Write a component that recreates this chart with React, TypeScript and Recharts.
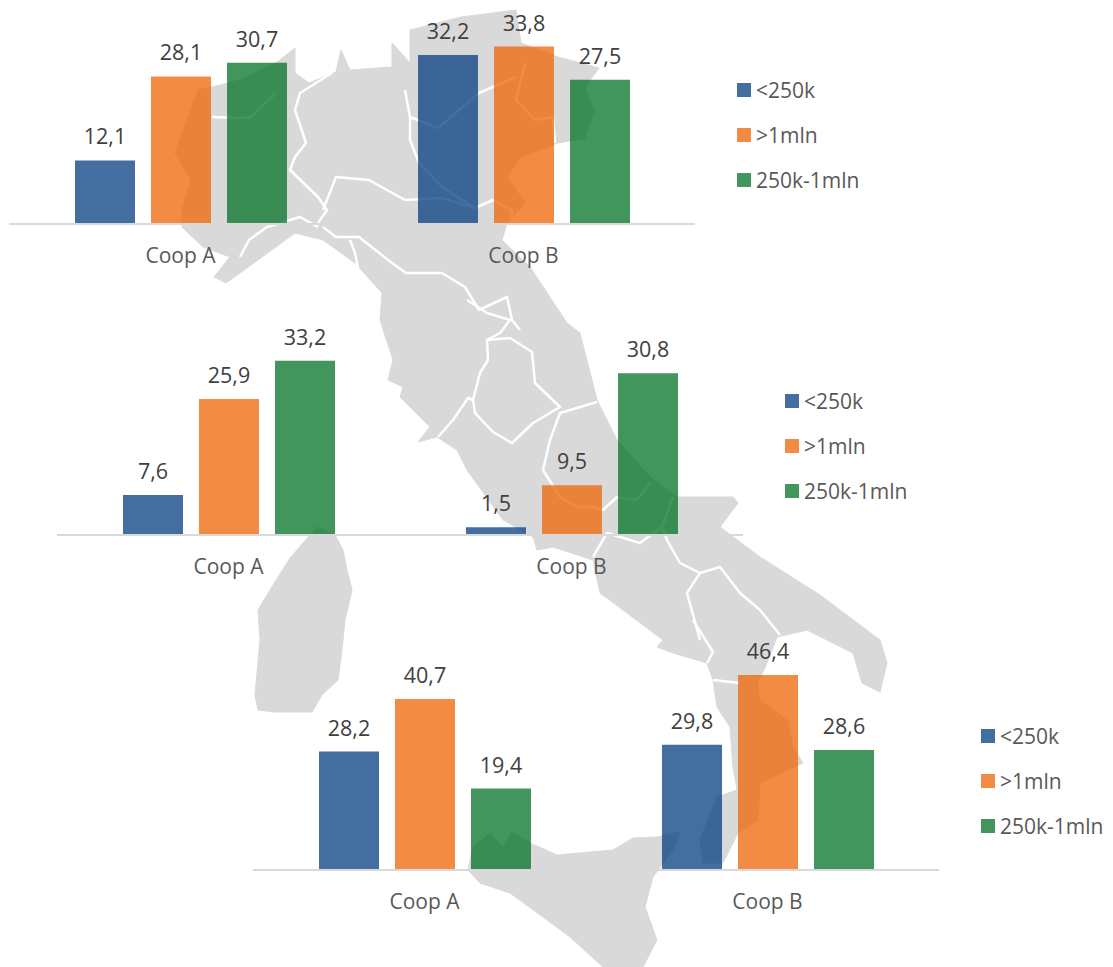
import { BarChart, Bar, XAxis, YAxis, Legend, LabelList } from 'recharts';

const categories = ['Coop A', 'Coop B'];
const seriesNames = ['<250k', '>1mln', '250k-1mln'];
const seriesColors = ['#053D7F', '#ED6405', '#047128'];

// north, centre, south panels
const northSmall = [12.1, 32.2];
const northLarge = [28.1, 33.8];
const northMid = [30.7, 27.5];
const centreSmall = [7.6, 1.5];
const centreLarge = [25.9, 9.5];
const centreMid = [33.2, 30.8];
const southSmall = [28.2, 29.8];
const southLarge = [40.7, 46.4];
const southMid = [19.4, 28.6];

// background map of Italy, traced by hand
const mainland =
  'M198,90 L212,87 L240,80 L276,63 L295,48 L295,73 L309,83 L336,72 L341,50 L350,70 L392,67 L392,43 L410,63 L410,30 L461,17 L516,10 L521,43 L558,57 L599,68 L585,87 L594,110 L585,138 L558,143 L521,157 L507,177 L525,203 L507,223 L502,240 L530,267 L567,323 L580,333 L597,400 L617,440 L650,477 L677,497 L733,497 L738,503 L720,527 L760,557 L820,595 L880,640 L887,663 L880,692 L862,683 L853,653 L807,630 L777,637 L765,668 L757,683 L760,700 L787,720 L793,747 L803,763 L760,783 L758,820 L738,833 L723,863 L703,863 L700,840 L717,797 L737,790 L733,767 L730,727 L717,707 L713,680 L707,663 L673,653 L657,647 L663,640 L623,610 L600,593 L593,560 L553,547 L537,550 L533,537 L503,520 L467,470 L457,450 L437,437 L418,442 L430,427 L400,397 L403,387 L388,380 L393,360 L380,320 L382,293 L355,263 L323,240 L295,233 L258,260 L226,283 L214,277 L230,257 L203,247 L182,227 L182,210 L191,180 L175,153 Z';
const sardinia =
  'M317,527 L335,535 L343,550 L347,570 L352,590 L345,620 L342,650 L338,680 L322,695 L312,712 L275,712 L258,710 L255,695 L260,640 L258,610 L270,590 L290,558 Z';
const sicily =
  'M680,832 L673,850 L653,877 L645,907 L657,940 L643,967 L603,967 L570,937 L543,917 L510,893 L480,883 L468,870 L473,847 L490,833 L503,847 L512,832 L530,843 L557,855 L613,850 L633,838 L657,837 Z';
const borders = [
  'M487,340 L510,338 L532,352 L535,383 L560,407 L533,423 L512,443 L493,432 L475,413 L473,400 L480,373 L488,360 Z',
  'M473,400 L468,398 L453,420 L438,437',
  'M597,402 L560,413 L550,440 L543,470 L560,497 L577,507 L593,507 L603,510 L617,497 L637,500 L650,483',
  'M673,497 L662,527 L640,543 L607,533 L593,557',
  'M662,527 L667,540 L680,563 L700,573 L687,593 L700,640',
  'M700,573 L720,567 L740,593 L760,610 L780,635',
  'M693,620 L713,652 L707,663 M713,680 L740,683',
  'M332,73 L300,93 L295,110 L306,143 L295,157 L290,170 L318,197 L327,210 L318,223',
  'M318,227 L300,217 L267,227 L249,240 L240,257',
  'M212,117 L240,118 L251,117 L276,93',
  'M323,210 L336,177 L369,180 L405,200 L442,198 L475,208 L493,200 L512,210 L512,223',
  'M323,227 L336,237 L359,237 L392,263 L406,273 L442,273 L465,287 L479,310 L507,297 L512,320 L520,330',
  'M467,300 L487,313 L510,320 L500,333 L487,340',
  'M350,240 L355,253 L359,273',
  'M479,93 L438,128 L410,117 L405,90 M410,117 L410,140 L419,163 L442,187 L475,208',
  'M525,63 L516,100 L535,120 L553,117 L555,143 M479,93 L516,77',
];

const makeRows = (small: number[], large: number[], mid: number[]) =>
  categories.map((name, i) => ({ name, small: small[i], large: large[i], mid: mid[i] }));

const formatValue = (v: any) => Number(v).toFixed(1).replace('.', ',');

const ChartLegend = ({ payload }: any) => (
  <div style={{ fontFamily: 'Open Sans', fontSize: 21, color: '#595959' }}>
    {(payload || []).map((item: any) => (
      <div key={item.value} style={{ display: 'flex', alignItems: 'center', height: 45, whiteSpace: 'nowrap' }}>
        <span style={{ width: 14, height: 14, marginRight: 5, background: item.color, opacity: 0.75 }} />
        {item.value}
      </div>
    ))}
  </div>
);

const Panel = ({ rows, max, left, top }: any) => (
  <div style={{ position: 'absolute', left, top: top - 40 }}>
    <BarChart
      width={1000}
      height={320}
      data={rows}
      barSize={60}
      barGap={16}
      margin={{ top: 40, right: 114, bottom: 0, left: 0 }}
    >
      <XAxis
        dataKey="name"
        axisLine={{ stroke: '#D9D9D9', strokeWidth: 2 }}
        tickLine={false}
        height={70}
        tickMargin={18}
        tick={{ fontFamily: 'Open Sans', fontSize: 21, fill: '#595959' }}
      />
      <YAxis hide domain={[0, max]} />
      <Legend
        layout="vertical"
        align="right"
        verticalAlign="top"
        itemSorter={null}
        content={<ChartLegend />}
        wrapperStyle={{ position: 'absolute', left: 728, top: 93, width: 200 }}
      />
      {['small', 'large', 'mid'].map((key, i) => (
        <Bar
          key={key}
          dataKey={key}
          name={seriesNames[i]}
          fill={seriesColors[i]}
          fillOpacity={0.75}
          isAnimationActive={false}
        >
          <LabelList
            dataKey={key}
            position="top"
            offset={16}
            formatter={formatValue}
            style={{ fontFamily: 'Open Sans', fontSize: 21.5, fill: '#404040' }}
          />
        </Bar>
      ))}
    </BarChart>
  </div>
);

const App = () => (
  <div style={{ position: 'absolute', left: 0, top: 0, width: 1113, height: 967, overflow: 'hidden', background: '#fff' }}>
    <svg width={1113} height={967} style={{ position: 'absolute', left: 0, top: 0 }}>
      <path d={mainland} fill="#D9D9D9" stroke="#D9D9D9" strokeLinejoin="round" />
      <path d={sardinia} fill="#D9D9D9" stroke="#D9D9D9" strokeLinejoin="round" />
      <path d={sicily} fill="#D9D9D9" stroke="#D9D9D9" strokeLinejoin="round" />
      {borders.map((d) => (
        <path key={d} d={d} fill="none" stroke="#fff" strokeWidth={2.5} strokeLinejoin="round" />
      ))}
    </svg>
    <Panel rows={makeRows(northSmall, northLarge, northMid)} max={40} left={9} top={14} />
    <Panel rows={makeRows(centreSmall, centreLarge, centreMid)} max={40} left={57} top={325} />
    <Panel rows={makeRows(southSmall, southLarge, southMid)} max={50} left={253} top={660} />
  </div>
);

export default App;
